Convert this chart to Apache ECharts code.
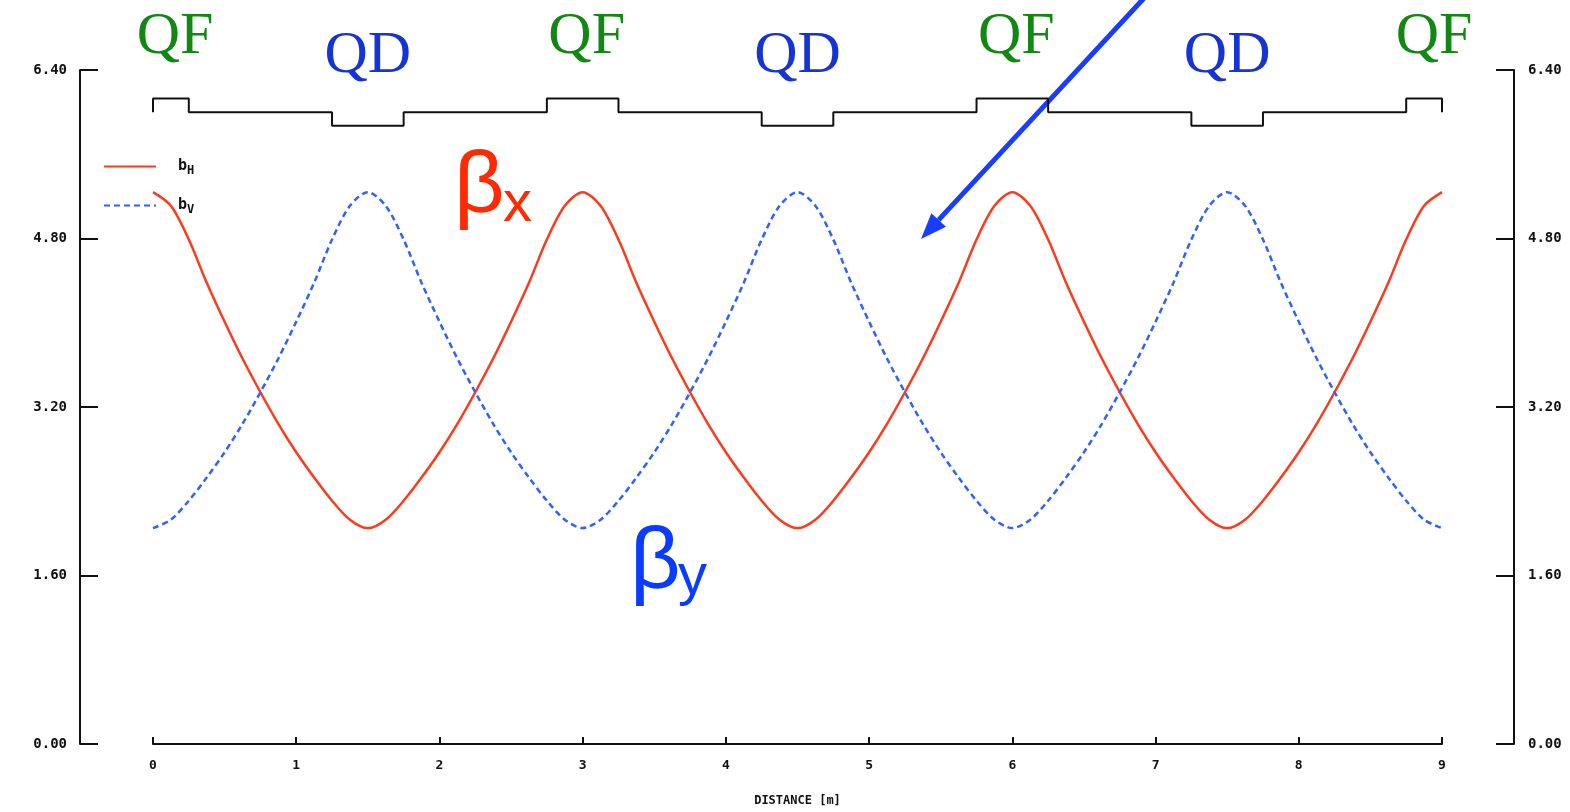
<!DOCTYPE html>
<html>
<head>
<meta charset="utf-8">
<script src="https://cdn.jsdelivr.net/npm/echarts@6/dist/echarts.min.js"></script>
<style>
html,body{margin:0;padding:0;background:#fff;}
#chart{width:1570px;height:812px;}
</style>
</head>
<body>
<div id="chart"></div>
<script>
// Distance along the lattice [m]
const distance = [
  0,0.125,0.25,0.375,0.5,0.625,0.75,0.875,1,1.125,1.25,1.375,1.5,1.625,1.75,1.875,2,2.125,2.25,2.375,2.5,2.625,2.75,2.875,
  3,3.125,3.25,3.375,3.5,3.625,3.75,3.875,4,4.125,4.25,4.375,4.5,4.625,4.75,4.875,5,5.125,5.25,5.375,5.5,5.625,5.75,5.875,
  6,6.125,6.25,6.375,6.5,6.625,6.75,6.875,7,7.125,7.25,7.375,7.5,7.625,7.75,7.875,8,8.125,8.25,8.375,8.5,8.625,8.75,8.875,9
];
// Horizontal beta function (red, solid)
const betaH = [
  5.24,5.11,4.79,4.38,4.01,3.66,3.34,3.04,2.77,2.53,2.31,2.13,2.05,2.13,2.31,2.53,2.77,3.04,3.34,3.66,4.01,4.38,4.79,5.11,
  5.24,5.11,4.79,4.38,4.01,3.66,3.34,3.04,2.77,2.53,2.31,2.13,2.05,2.13,2.31,2.53,2.77,3.04,3.34,3.66,4.01,4.38,4.79,5.11,
  5.24,5.11,4.79,4.38,4.01,3.66,3.34,3.04,2.77,2.53,2.31,2.13,2.05,2.13,2.31,2.53,2.77,3.04,3.34,3.66,4.01,4.38,4.79,5.11,
  5.24
];
// Vertical beta function (blue, dashed)
const betaV = [
  2.05,2.13,2.31,2.53,2.77,3.04,3.34,3.66,4.01,4.38,4.79,5.11,5.24,5.11,4.79,4.38,4.01,3.66,3.34,3.04,2.77,2.53,2.31,2.13,
  2.05,2.13,2.31,2.53,2.77,3.04,3.34,3.66,4.01,4.38,4.79,5.11,5.24,5.11,4.79,4.38,4.01,3.66,3.34,3.04,2.77,2.53,2.31,2.13,
  2.05,2.13,2.31,2.53,2.77,3.04,3.34,3.66,4.01,4.38,4.79,5.11,5.24,5.11,4.79,4.38,4.01,3.66,3.34,3.04,2.77,2.53,2.31,2.13,
  2.05
];
// Magnet layout (lattice strip along the top)
const latticeS = [0,0,0.25,0.25,1.25,1.25,1.75,1.75,2.75,2.75,3.25,3.25,4.25,4.25,4.75,4.75,5.75,5.75,6.25,6.25,7.25,7.25,7.75,7.75,8.75,8.75,9,9];
const latticeH = [6.0,6.13,6.13,6.0,6.0,5.87,5.87,6.0,6.0,6.13,6.13,6.0,6.0,5.87,5.87,6.0,6.0,6.13,6.13,6.0,6.0,5.87,5.87,6.0,6.0,6.13,6.13,6.0];
// Axis ticks
const yMin = 0, yMax = 6.4, yStep = 1.6;
const xMin = 0, xMax = 9, xStep = 1;
// Magnet labels
const qfPos = [0, 3, 6, 9];
const qdPos = [1.5, 4.5, 7.5];

const pairs = (xs, ys) => xs.map((x, i) => [x, ys[i]]);

const tickFont = {color:'#111', fontFamily:'DejaVu Sans Mono', fontWeight:'bold', fontSize:14};
const axisLine = {show:true, onZero:false, lineStyle:{color:'#111', width:2}};

const chart = echarts.init(document.getElementById('chart'));
chart.setOption({
  animation:false,
  backgroundColor:'#fff',
  grid:{left:153, right:128, top:70, bottom:64, containLabel:false},
  xAxis:{
    type:'value', min:xMin, max:xMax, interval:xStep,
    name:'DISTANCE [m]', nameLocation:'middle', nameGap:51,
    nameTextStyle:{color:'#111', fontFamily:'DejaVu Sans Mono', fontWeight:'bold', fontSize:12},
    axisLine:axisLine,
    axisTick:{show:true, inside:true, length:7, lineStyle:{color:'#111', width:2}},
    axisLabel:Object.assign({margin:15, formatter:v=>String(v)}, tickFont, {fontSize:13}),
    splitLine:{show:false}
  },
  yAxis:[
    {type:'value', min:yMin, max:yMax, interval:yStep, position:'left', offset:73,
     axisLine:axisLine,
     axisTick:{show:true, inside:true, length:18, lineStyle:{color:'#111', width:2}},
     axisLabel:Object.assign({margin:13, formatter:v=>v.toFixed(2)}, tickFont),
     splitLine:{show:false}},
    {type:'value', min:yMin, max:yMax, interval:yStep, position:'right', offset:72,
     axisLine:axisLine,
     axisTick:{show:true, inside:true, length:18, lineStyle:{color:'#111', width:2}},
     axisLabel:Object.assign({margin:14, formatter:v=>v.toFixed(2)}, tickFont),
     splitLine:{show:false}}
  ],
  legend:{
    data:['bH','bV'], orient:'vertical', left:98, top:154,
    itemWidth:52, itemHeight:14, itemGap:21,
    itemStyle:{opacity:0},
    formatter:function(n){return '{g|}{b|b}{s|'+n.slice(1)+'}';},
    textStyle:{color:'#111', rich:{
      g:{width:17},
      b:{fontFamily:'DejaVu Sans Mono', fontWeight:'bold', fontSize:15, color:'#111'},
      s:{fontFamily:'DejaVu Sans Mono', fontWeight:'bold', fontSize:12, color:'#111', padding:[9,0,0,0]}
    }}
  },
  series:[
    {name:'lattice', type:'line', data:pairs(latticeS, latticeH), symbol:'none',
     lineStyle:{color:'#111', width:2}, itemStyle:{color:'#111'}, silent:true},
    {name:'bH', type:'line', data:pairs(distance, betaH), symbol:'none', smooth:0.3,
     lineStyle:{color:'#ff3a1c', width:2.5}, itemStyle:{color:'#ff3a1c'}},
    {name:'bV', type:'line', data:pairs(distance, betaV), symbol:'none', smooth:0.3,
     lineStyle:{color:'#3060ff', width:2.5, type:[6,4]}, itemStyle:{color:'#3060ff'}}
  ]
});

// Annotations
const px = x => chart.convertToPixel({xAxisIndex:0}, x);
const g = [];
const serif = 'Liberation Serif';
qfPos.forEach(x => g.push({type:'text', x:px(x)+ (x===0?22:(x===9?-8:4)), y:67,
  style:{text:'QF', fontFamily:serif, fontSize:60, fill:'#118811', align:'center', verticalAlign:'bottom'}}));
qdPos.forEach(x => g.push({type:'text', x:px(x), y:86,
  style:{text:'QD', fontFamily:serif, fontSize:60, fill:'#1633d6', align:'center', verticalAlign:'bottom'}}));
// beta_x label
g.push({type:'text', x:454, y:188, style:{text:'β', fontFamily:'Liberation Sans', fontSize:88, fill:'#ff2a00', align:'left', verticalAlign:'middle'}});
g.push({type:'text', x:503, y:205, style:{text:'x', fontFamily:'Liberation Sans', fontSize:58, fill:'#ff2a00', align:'left', verticalAlign:'middle'}});
// beta_y label
g.push({type:'text', x:630, y:564, style:{text:'β', fontFamily:'Liberation Sans', fontSize:88, fill:'#0a3cff', align:'left', verticalAlign:'middle'}});
g.push({type:'text', x:678, y:578, style:{text:'y', fontFamily:'Liberation Sans', fontSize:58, fill:'#0a3cff', align:'left', verticalAlign:'middle'}});
// arrow
const tail = [1146, -4], tip = [921, 239];
const dx = tip[0]-tail[0], dy = tip[1]-tail[1], L = Math.hypot(dx, dy);
const ux = dx/L, uy = dy/L, hl = 26, hw = 10;
const bx = tip[0]-hl*ux, by = tip[1]-hl*uy;
g.push({type:'line', shape:{x1:tail[0], y1:tail[1], x2:bx, y2:by}, style:{stroke:'#1a3cff', lineWidth:5}});
g.push({type:'polygon', shape:{points:[tip,[bx-hw*uy, by+hw*ux],[bx+hw*uy, by-hw*ux]]}, style:{fill:'#1a3cff'}});
chart.setOption({graphic:g});
</script>
</body>
</html>
